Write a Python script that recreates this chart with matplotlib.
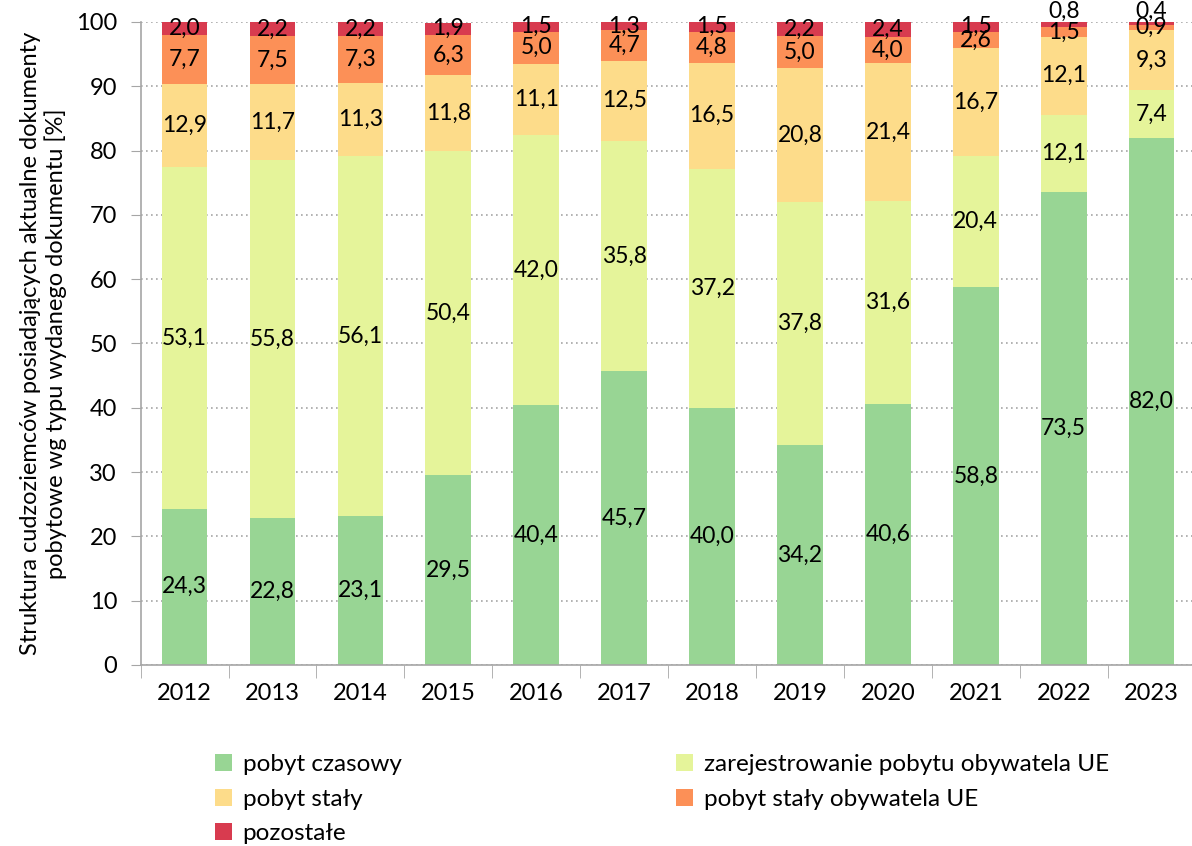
import matplotlib.pyplot as plt
import numpy as np

plt.rcParams['font.family'] = ['Lato', 'Open Sans', 'DejaVu Sans']

years = ['2012', '2013', '2014', '2015', '2016', '2017', '2018', '2019', '2020', '2021', '2022', '2023']
czasowy = [24.3, 22.8, 23.1, 29.5, 40.4, 45.7, 40.0, 34.2, 40.6, 58.8, 73.5, 82.0]
zarejestrowanie = [53.1, 55.8, 56.1, 50.4, 42.0, 35.8, 37.2, 37.8, 31.6, 20.4, 12.1, 7.4]
staly = [12.9, 11.7, 11.3, 11.8, 11.1, 12.5, 16.5, 20.8, 21.4, 16.7, 12.1, 9.3]
staly_ue = [7.7, 7.5, 7.3, 6.3, 5.0, 4.7, 4.8, 5.0, 4.0, 2.6, 1.5, 0.9]
pozostale = [2.0, 2.2, 2.2, 1.9, 1.5, 1.3, 1.5, 2.2, 2.4, 1.5, 0.8, 0.4]

series = [
    ('pobyt czasowy', czasowy, '#98D594'),
    ('zarejestrowanie pobytu obywatela UE', zarejestrowanie, '#E5F49A'),
    ('pobyt stały', staly, '#FDDC8A'),
    ('pobyt stały obywatela UE', staly_ue, '#FC9057'),
    ('pozostałe', pozostale, '#D83B4F'),
]

fig = plt.figure(figsize=(11.92, 8.46), dpi=100)
ax = fig.add_axes([0.118, 0.214, 0.885, 0.760])

x = np.arange(len(years))
bottom = np.zeros(len(years))
bars = {}
for i, (name, vals, col) in enumerate(series):
    vals = np.array(vals)
    bars[name] = ax.bar(x, vals, 0.52, bottom=bottom, color=col, label=name, zorder=2)
    for xi, b, v in zip(x, bottom, vals):
        y = b + v / 2
        # tiny top segments: label pushed above the bar, like in the source
        if i == len(series) - 1 and v < 1:
            y = 101.7
        ax.text(xi, y, f'{v:.1f}'.replace('.', ','), ha='center', va='center',
                fontsize=16.5, color='black', zorder=3, clip_on=False)
    bottom += vals

ax.set_ylim(0, 100)
ax.set_xlim(-0.5, 11.45)
ax.set_yticks(range(0, 101, 10))
ax.tick_params(axis='y', labelsize=17, length=7, color='#A6A6A6', pad=10)
ax.set_xticks(x)
ax.set_xticklabels(years)
ax.tick_params(axis='x', which='major', length=0, labelsize=17, pad=13)
ax.set_xticks(np.arange(-0.5, 12, 1), minor=True)
ax.tick_params(axis='x', which='minor', length=9, color='#A6A6A6')
ax.yaxis.grid(True, linestyle=(0, (1, 2)), color='#A6A6A6', linewidth=1.2, zorder=0)
ax.set_axisbelow(True)
for s in ['top', 'right']:
    ax.spines[s].set_visible(False)
for s in ['left', 'bottom']:
    ax.spines[s].set_color('#A6A6A6')
    ax.spines[s].set_linewidth(1.2)

ax.set_ylabel('Struktura cudzoziemców posiadających aktualne dokumenty\npobytowe wg typu wydanego dokumentu [%]',
              fontsize=17, labelpad=6)

handles = [bars[s[0]] for s in series]
order = [0, 2, 4, 1, 3]
fig.legend([handles[i] for i in order], [series[i][0] for i in order],
           ncol=2, loc='upper left', bbox_to_anchor=(0.172, 0.12), frameon=False,
           fontsize=17.5, handlelength=0.7, handleheight=0.7, handletextpad=0.45,
           columnspacing=11.3, labelspacing=0.55, borderaxespad=0)

fig.savefig('out.png', dpi=100)
